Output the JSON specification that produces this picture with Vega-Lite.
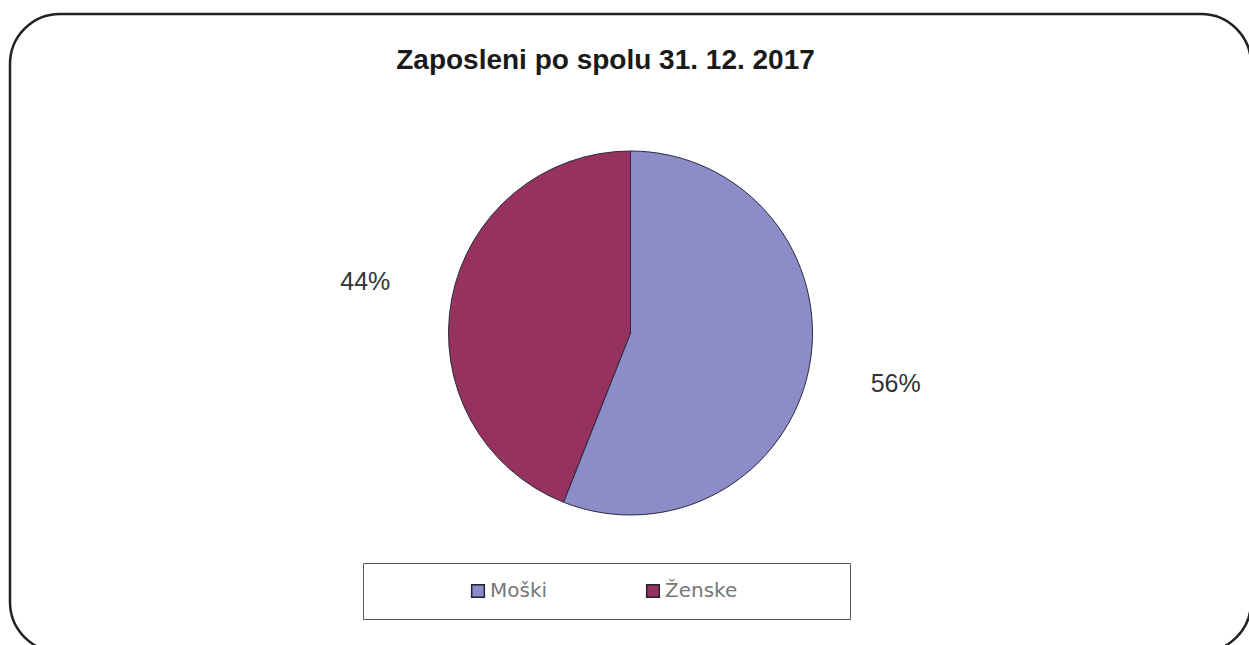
{
  "$schema": "https://vega.github.io/schema/vega-lite/v6.json",
  "autosize": "none",
  "width": 1241,
  "height": 638,
  "padding": {"left": 10, "top": 14, "right": 0, "bottom": 0},
  "background": "white",
  "view": {"stroke": "#222222", "strokeWidth": 2.5, "cornerRadius": 50, "fill": "white"},
  "title": {
    "text": "Zaposleni po spolu 31. 12. 2017",
    "font": "Liberation Sans",
    "fontSize": 28,
    "fontWeight": "bold",
    "color": "#1a1a1a",
    "anchor": "middle",
    "baseline": "middle",
    "dx": -25,
    "dy": 79
  },
  "data": {
    "values": [
      {"spol": "Moški", "delez": 56, "oznaka": "56%"},
      {"spol": "Ženske", "delez": 44, "oznaka": "44%"}
    ]
  },
  "encoding": {
    "theta": {"field": "delez", "type": "quantitative", "stack": true},
    "order": {"field": "spol", "type": "nominal"}
  },
  "layer": [
    {
      "mark": {"type": "arc", "outerRadius": 182, "stroke": "#2a2a40", "strokeWidth": 1},
      "encoding": {
        "color": {
          "field": "spol",
          "type": "nominal",
          "scale": {"domain": ["Moški", "Ženske"], "range": ["#8c8cc8", "#96325f"]},
          "legend": {
            "orient": "none",
            "legendX": 353,
            "legendY": 549,
            "direction": "horizontal",
            "title": " ",
            "titleOrient": "right",
            "titlePadding": 95,
            "padding": 18,
            "strokeColor": "#555555",
            "fillColor": "white",
            "symbolType": "square",
            "symbolSize": 160,
            "symbolStrokeColor": "#222233",
            "symbolStrokeWidth": 1.5,
            "symbolOffset": 87,
            "labelFont": "DejaVu Sans",
            "labelFontSize": 20,
            "labelColor": "#777777",
            "labelOffset": 2,
            "columnPadding": 8
          }
        }
      }
    },
    {
      "mark": {"type": "text", "radius": 270, "font": "Liberation Sans", "fontSize": 25, "color": "#333333"},
      "encoding": {
        "text": {"field": "oznaka", "type": "nominal"}
      }
    }
  ]
}
